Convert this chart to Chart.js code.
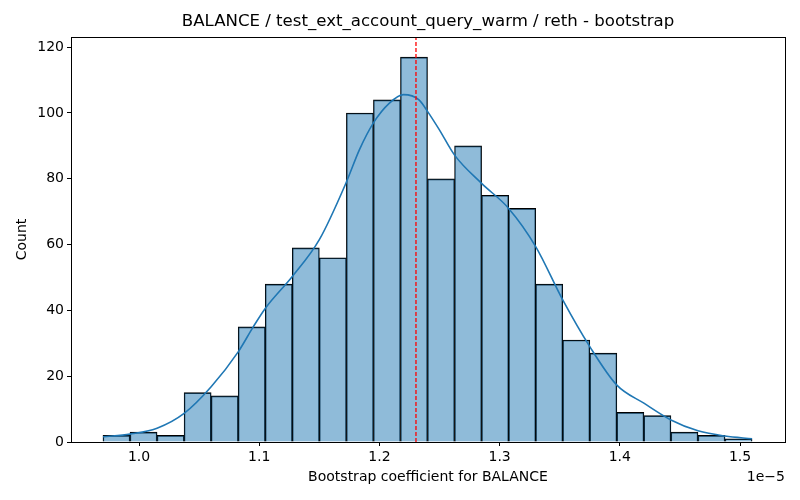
<!DOCTYPE html>
<html>
<head>
<meta charset="utf-8">
<script src="https://cdn.jsdelivr.net/npm/chart.js@4"></script>
<style>
  html, body { margin: 0; padding: 0; background: #fff; }
  #chart { display: block; }
</style>
</head>
<body>
<canvas id="chart" width="800" height="500"></canvas>
<script>
// values in units of 1e-5
const binEdges = [0.970, 0.9925, 1.015, 1.0375, 1.060, 1.0825, 1.105, 1.1275, 1.150, 1.1725, 1.195, 1.2175,
  1.240, 1.2625, 1.285, 1.3075, 1.330, 1.3525, 1.375, 1.3975, 1.420, 1.4425, 1.465, 1.4875, 1.510]
const counts = [2, 3, 2, 15, 14, 35, 48, 59, 56, 100, 104, 117, 80, 90, 75, 71, 48, 31, 27, 9, 8, 3, 2, 1]

const kdeX = [0.970, 0.9925, 1.015, 1.0375, 1.060, 1.0825, 1.095, 1.105, 1.1275, 1.150, 1.1725, 1.1833, 1.195,
  1.2083, 1.220, 1.2329, 1.240, 1.250, 1.2625, 1.285, 1.3075, 1.330, 1.3525, 1.375, 1.3975, 1.420, 1.4425,
  1.465, 1.4875, 1.510]
const kdeY = [1.6, 2.4, 4.2, 8.7, 16.8, 27.4, 35, 40.6, 50.3, 61.5, 79, 88.8, 97,
  103, 105.6, 104, 100.5, 94.8, 87.2, 78.6, 71, 59.4, 43.2, 29, 17.3, 11.8, 6.7,
  3.4, 1.8, 1.0]

const meanValue = 1.2304
const xTicks = [1.0, 1.1, 1.2, 1.3, 1.4, 1.5]
const yTicks = [0, 20, 40, 60, 80, 100, 120]

const titleText = "BALANCE / test_ext_account_query_warm / reth - bootstrap"
const xLabel = "Bootstrap coefficient for BALANCE"
const yLabel = "Count"
const offsetText = "1e\u22125"

const barData = counts.map((c, i) => ({ x: (binEdges[i] + binEdges[i + 1]) / 2, y: c }))
const kdeData = kdeX.map((x, i) => ({ x, y: kdeY[i] }))

Chart.defaults.font.family = "'DejaVu Sans', sans-serif"
Chart.defaults.color = "#000"

const frame = {
  id: "frame",
  afterDraw(chart) {
    const { ctx, chartArea: a } = chart
    ctx.save()
    ctx.strokeStyle = "#000"
    ctx.lineWidth = 1
    ctx.strokeRect(a.left + 0.5, a.top + 0.5, a.right - a.left, a.bottom - a.top)
    ctx.fillStyle = "#000"
    ctx.textAlign = "center"
    ctx.textBaseline = "middle"
    ctx.font = "16.6px 'DejaVu Sans'"
    ctx.fillText(titleText, (a.left + a.right) / 2, 22)
    ctx.textAlign = "right"
    ctx.font = "14px 'DejaVu Sans'"
    ctx.fillText(offsetText, a.right, 477)
    ctx.restore()
  },
}

new Chart(document.getElementById("chart"), {
  type: "bar",
  data: {
    datasets: [
      {
        type: "line",
        data: [{ x: meanValue, y: 0 }, { x: meanValue, y: 124 }],
        borderColor: "#ff0000",
        borderWidth: 1.3,
        borderDash: [4, 2],
        pointRadius: 0,
        order: 1,
      },
      {
        type: "line",
        data: kdeData,
        borderColor: "#1f77b4",
        borderWidth: 1.6,
        pointRadius: 0,
        cubicInterpolationMode: "monotone",
        order: 2,
      },
      {
        type: "bar",
        data: barData,
        backgroundColor: "rgba(31,119,180,0.5)",
        borderColor: "#000",
        borderWidth: { top: 1, left: 0.8, right: 0.8, bottom: 0 },
        barPercentage: 1,
        categoryPercentage: 1,
        order: 3,
      },
    ],
  },
  options: {
    responsive: false,
    animation: false,
    layout: { padding: { top: 37, right: 15, left: 0, bottom: 0 } },
    plugins: { legend: { display: false }, tooltip: { enabled: false }, title: { display: false } },
    scales: {
      x: {
        type: "linear",
        min: 0.9434,
        max: 1.5374,
        offset: false,
        grid: { offset: false, drawOnChartArea: false, drawTicks: true, tickLength: 4, color: "#000" },
        border: { display: true, color: "#000" },
        afterBuildTicks: (scale) => { scale.ticks = xTicks.map((v) => ({ value: v })) },
        afterFit: (scale) => { scale.height = 58 },
        ticks: { font: { size: 14 }, padding: 3, maxRotation: 0, callback: (v) => v.toFixed(1) },
        title: { display: true, text: xLabel, font: { size: 14 }, padding: { top: 0, bottom: 14 } },
      },
      y: {
        min: 0,
        max: 123.1,
        grid: { offset: false, drawOnChartArea: false, drawTicks: true, tickLength: 4, color: "#000" },
        border: { display: true, color: "#000" },
        afterBuildTicks: (scale) => { scale.ticks = yTicks.map((v) => ({ value: v })) },
        afterFit: (scale) => { scale.width = 71 },
        ticks: { font: { size: 14 }, padding: 3 },
        title: { display: true, text: yLabel, font: { size: 14 }, padding: { top: 14, bottom: 0 } },
      },
    },
  },
  plugins: [frame],
})
</script>
</body>
</html>
